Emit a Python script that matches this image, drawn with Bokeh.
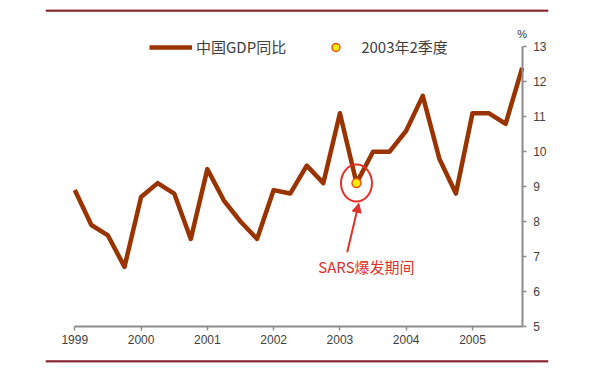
from bokeh.plotting import figure
from bokeh.models import (Range1d, FixedTicker, Legend, LegendItem, Label, Arrow,
                          NormalHead, Span)
from bokeh.embed import file_html
from bokeh.resources import INLINE

# ---- data ----
years = [1999, 2000, 2001, 2002, 2003, 2004, 2005]
quarter_offsets = [0.0, 0.25, 0.5, 0.75]
gdp_yoy = [8.9, 7.9, 7.6, 6.7,
           8.7, 9.1, 8.8, 7.5,
           9.5, 8.6, 8.0, 7.5,
           8.9, 8.8, 9.6, 9.1,
           11.1, 9.1, 10.0, 10.0,
           10.6, 11.6, 9.8, 8.8,
           11.1, 11.1, 10.8, 12.4]
y_ticks = [5, 6, 7, 8, 9, 10, 11, 12, 13]
sars_x = [2003.25]
sars_y = [9.1]
series_label = "中国GDP同比"
marker_label = "2003年2季度"
note_text = "SARS爆发期间"

qx = [yr + q for yr in years for q in quarter_offsets]
x_end = years[-1] + quarter_offsets[-1]

LINE_C = "#993300"
RED = "#e0302a"
RULE_C = "#86202a"
AXIS_C = "#8c8c8c"
CJK = "Noto Sans CJK SC"

# frame spans the whole decorated area; axes are pinned inside it
x_lo, x_hi = 1998.558, 2006.147
y_lo, y_hi = 3.960, 14.074

p = figure(width=590, height=368, output_backend="svg", toolbar_location=None,
           x_range=Range1d(x_lo, x_hi), y_range=Range1d(y_lo, y_hi),
           y_axis_location="right",
           min_border_left=45, min_border_right=42,
           min_border_top=9, min_border_bottom=6)
p.outline_line_color = None
p.xgrid.visible = False
p.ygrid.visible = False
p.background_fill_color = "white"
p.border_fill_color = "white"

for ax in (p.xaxis[0], p.yaxis[0]):
    ax.axis_line_color = AXIS_C
    ax.axis_line_width = 2
    ax.major_tick_line_color = AXIS_C
    ax.major_tick_line_width = 1.5
    ax.major_tick_in = 0
    ax.major_tick_out = 4
    ax.minor_tick_line_color = None
    ax.major_label_text_font = "Liberation Sans"
    ax.major_label_text_font_size = "12px"
    ax.major_label_text_color = "#404040"

p.xaxis.ticker = FixedTicker(ticks=years)
p.xaxis.major_label_standoff = 5
p.xaxis.bounds = (years[0], x_end)
p.xaxis.fixed_location = y_ticks[0]
p.yaxis.ticker = FixedTicker(ticks=y_ticks)
p.yaxis.major_label_standoff = 7
p.yaxis.bounds = (y_ticks[0], y_ticks[-1])
p.yaxis.fixed_location = x_end

line_r = p.line(qx, gdp_yoy, line_color=LINE_C, line_width=4.5, line_join="round")
dot_r = p.scatter(sars_x, sars_y, size=9, fill_color="#ffee00", line_color="#e8500a",
                  line_width=1.5)
p.ellipse(x=sars_x, y=sars_y, width=31, height=37, width_units="screen",
          height_units="screen", fill_color=None, line_color=RED, line_width=2)

p.add_layout(Arrow(end=NormalHead(size=9, fill_color=RED, line_color=RED, line_width=1),
                   x_start=2003.11, y_start=7.12, x_end=2003.285, y_end=8.52,
                   line_color=RED, line_width=2))
p.add_layout(Label(x=2003.40, y=6.71, text=note_text, text_font=CJK,
                   text_font_size="15px", text_color=RED, text_align="center",
                   text_baseline="middle"))
p.add_layout(Label(x=x_end, y=y_ticks[-1], y_offset=13, text="%",
                   text_font="Liberation Sans", text_font_size="11px",
                   text_color="#333333", text_align="center", text_baseline="middle"))

legend = Legend(items=[LegendItem(label=series_label, renderers=[line_r]),
                       LegendItem(label=marker_label, renderers=[dot_r])],
                orientation="horizontal", location=(104, 305),
                glyph_width=43, glyph_height=20, label_height=20,
                label_standoff=4, spacing=28, padding=0, margin=0,
                border_line_color=None, background_fill_alpha=0,
                label_text_font=CJK, label_text_font_size="15px",
                label_text_color="#404040")
p.add_layout(legend, "center")

# decorative top / bottom rules
p.add_layout(Span(location=y_hi - 0.03, dimension="width", line_color=RULE_C, line_width=2.5))
p.add_layout(Span(location=y_lo + 0.03, dimension="width", line_color=RULE_C, line_width=2.5))

open("out.html", "w").write(file_html(p, INLINE))
